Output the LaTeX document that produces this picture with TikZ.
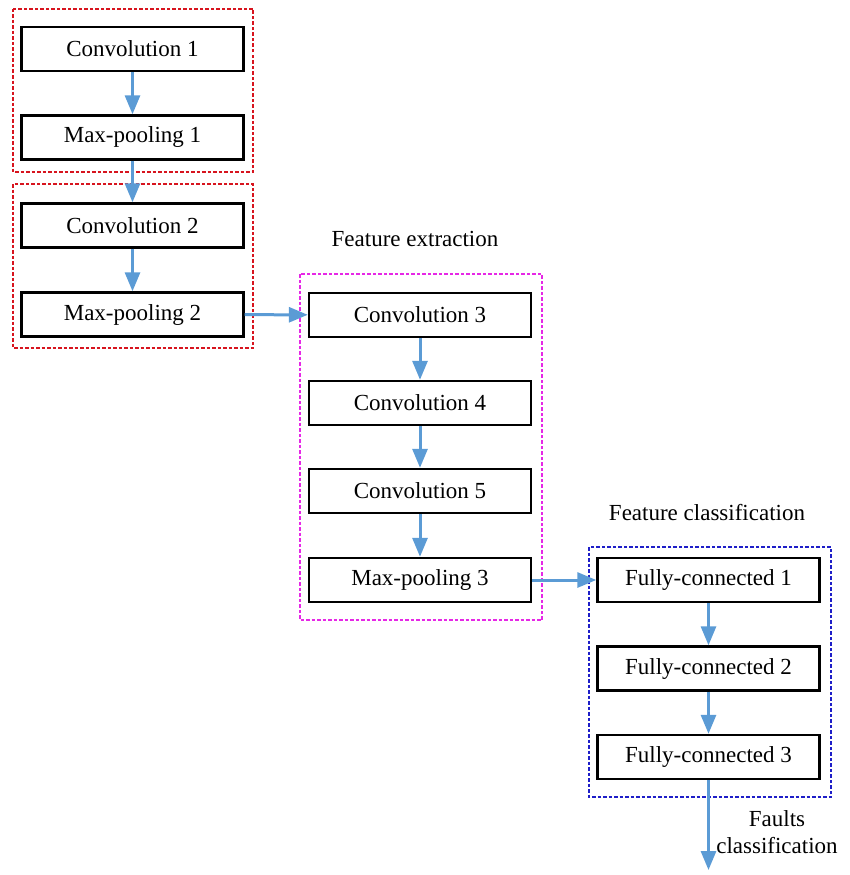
\documentclass[tikz,border=0pt]{standalone}
\usepackage{fontspec}
\setmainfont{Liberation Serif}
\usetikzlibrary{arrows.meta}
\definecolor{flowblue}{RGB}{91,155,213}
\definecolor{grpred}{RGB}{215,20,30}
\definecolor{grpmag}{RGB}{230,40,230}
\definecolor{grpblue}{RGB}{30,30,200}
\begin{document}
\begin{tikzpicture}[x=1pt,y=-1pt,
  layer/.style={draw=black,line width=2.4pt,fill=white,minimum width=222pt,minimum height=44pt,
    inner sep=0pt,font=\fontsize{23}{25}\selectfont},
  flow/.style={draw=flowblue,line width=3pt,-{Triangle[length=19pt,width=15pt]}},
  group/.style={line width=2pt,dash pattern=on 3.5pt off 2pt},
  caption/.style={font=\fontsize{23}{27}\selectfont,align=center,inner sep=0pt}]
\useasboundingbox (0,0) rectangle (850,875);

% dashed group outlines
\draw[group,grpred] (13,9) rectangle (253,172);
\draw[group,grpred] (13,184) rectangle (253,348);
\draw[group,grpmag] (300,274) rectangle (542,620);
\draw[group,grpblue] (589,547) rectangle (831,797);

% layers
\node[layer] (c1) at (132.5,49) {Convolution 1};
\node[layer] (m1) at (132.5,137.5) {Max-pooling 1};
\node[layer] (c2) at (132.5,225.5) {Convolution 2};
\node[layer] (m2) at (132.5,314.5) {Max-pooling 2};
\node[layer] (c3) at (420,315) {Convolution 3};
\node[layer] (c4) at (420,403) {Convolution 4};
\node[layer] (c5) at (420,491) {Convolution 5};
\node[layer] (m3) at (420,580) {Max-pooling 3};
\node[layer] (f1) at (708.5,580) {Fully-connected 1};
\node[layer] (f2) at (708.5,668.5) {Fully-connected 2};
\node[layer] (f3) at (708.5,757) {Fully-connected 3};

% captions
\node[caption] (fe) at (415,239) {Feature extraction};
\node[caption] (fc) at (707,513) {Feature classification};
\node[caption] (out) at (777,832) {Faults\\classification};
\coordinate (end) at (708.5,870);

% connectors
\draw[flow] (c1) -- (m1);
\draw[flow] (m1) -- (c2);
\draw[flow] (c2) -- (m2);
\draw[flow] (m2) -- (c3);
\draw[flow] (c3) -- (c4);
\draw[flow] (c4) -- (c5);
\draw[flow] (c5) -- (m3);
\draw[flow] (m3) -- (f1);
\draw[flow] (f1) -- (f2);
\draw[flow] (f2) -- (f3);
\draw[flow] (f3) -- (end);
\end{tikzpicture}
\end{document}
